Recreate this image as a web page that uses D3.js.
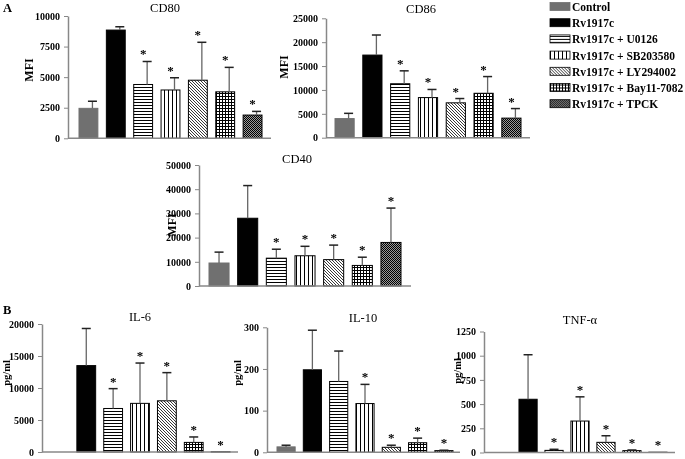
<!DOCTYPE html>
<html><head><meta charset="utf-8">
<script src="https://cdn.jsdelivr.net/npm/d3@7"></script>
<style>body{margin:0;background:#fff}svg{display:block}</style>
</head><body>
<svg id="c" width="685" height="459"></svg>
<script>
const categories = ["Control","Rv1917c","Rv1917c + U0126","Rv1917c + SB203580","Rv1917c + LY294002","Rv1917c + Bay11-7082","Rv1917c + TPCK"];
const fills = ["#707070","#000000","url(#pH)","url(#pV)","url(#pD)","url(#pG)","url(#pC)"];

const cd80Values = [2450, 8850, 4400, 3950, 4750, 3800, 1900];
const cd80SD     = [580, 270, 1880, 1000, 3100, 2000, 300];
const cd80Ticks  = [0, 2500, 5000, 7500, 10000];
const cd80Sig    = [0,0,1,1,1,1,1];

const cd86Values = [4000, 17300, 11300, 8400, 7300, 9300, 4100];
const cd86SD     = [1100, 4200, 2700, 1700, 900, 3500, 2000];
const cd86Ticks  = [0, 5000, 10000, 15000, 20000, 25000];
const cd86Sig    = [0,0,1,1,1,1,1];

const cd40Values = [9500, 28000, 11500, 12500, 10900, 8500, 18000];
const cd40SD     = [4500, 13500, 3700, 3900, 6000, 3400, 14200];
const cd40Ticks  = [0, 10000, 20000, 30000, 40000, 50000];
const cd40Sig    = [0,0,1,1,1,1,1];

const il6Values = [0, 13500, 6800, 7600, 8000, 1500, 40];
const il6SD     = [0, 5800, 3100, 6300, 4400, 850, 0];
const il6Ticks  = [0, 5000, 10000, 15000, 20000];
const il6Sig    = [0,0,1,1,1,1,1];

const il10Values = [13, 198, 170, 117, 12, 23, 4];
const il10SD     = [4, 95, 73, 46, 5, 11, 1];
const il10Ticks  = [0, 100, 200, 300];
const il10Sig    = [0,0,0,1,1,1,1];

const tnfValues = [0, 550, 22, 325, 105, 19, 3];
const tnfSD     = [0, 460, 11, 250, 68, 7, 0];
const tnfTicks  = [0, 250, 500, 750, 1000, 1250];
const tnfSig    = [0,0,1,1,1,1,1];

const FONT = "'Liberation Serif','Times New Roman',serif";
const svg = d3.select("#c");
const defs = svg.append("defs");
const root = svg.append("g").attr("opacity", 0.999);

function pat(id, w, h, draw, bg){
  const p = defs.append("pattern").attr("id", id).attr("patternUnits","userSpaceOnUse").attr("width", w).attr("height", h);
  p.append("rect").attr("width", w).attr("height", h).attr("fill", bg || "#fff");
  draw(p);
}
pat("pH", 4, 3, p => p.append("rect").attr("x",0).attr("y",0).attr("width",4).attr("height",1).attr("fill","#000"));
pat("pV", 4, 4, p => p.append("rect").attr("x",0).attr("y",0).attr("width",1).attr("height",4).attr("fill","#000"));
pat("pD", 3, 3, p => p.append("path").attr("d","M-1,-1L4,4M-1,2L1,4M2,-1L4,1").attr("stroke","#222").attr("stroke-width",0.9));
pat("pG", 3, 3, p => { p.append("rect").attr("x",0).attr("y",0).attr("width",3).attr("height",1).attr("fill","#000"); p.append("rect").attr("x",0).attr("y",0).attr("width",1).attr("height",3).attr("fill","#000"); });
pat("pC", 2, 2, p => { p.append("rect").attr("x",0).attr("y",0).attr("width",1).attr("height",1).attr("fill","#000"); p.append("rect").attr("x",1).attr("y",1).attr("width",1).attr("height",1).attr("fill","#000"); }, "#9a9a9a");

function panel(cfg){
  const g = root.append("g");
  const y = d3.scaleLinear().domain([0, d3.max(cfg.ticks)]).range([cfg.base, cfg.top]);
  const x = d3.scaleBand().domain(categories).range([cfg.b0, cfg.b1]).paddingInner(cfg.pad).paddingOuter(0);
  const ax = g.append("g").attr("transform", `translate(${cfg.ax},0)`)
    .call(d3.axisLeft(y).tickValues(cfg.ticks).tickSize(4).tickPadding(4).tickSizeOuter(0).tickFormat(d3.format("d")));
  ax.select(".domain").attr("stroke","#888").attr("stroke-width",1.5);
  ax.selectAll(".tick line").attr("stroke","#888");
  ax.selectAll(".tick text").attr("font-family",FONT).attr("font-weight","bold").attr("font-size",10).attr("fill","#000");
  g.selectAll("rect.bar").data(cfg.values.map((v,i)=>({v,i,c:categories[i]}))).enter()
    .filter(d => d.v > 0)
    .append("rect").attr("class","bar")
    .attr("x", d => x(d.c)).attr("width", x.bandwidth())
    .attr("y", d => y(d.v)).attr("height", d => cfg.base - y(d.v))
    .attr("fill", d => fills[d.i])
    .attr("stroke", d => d.i === 0 ? "#707070" : "#000").attr("stroke-width", 1);
  g.append("line").attr("x1", cfg.ax).attr("x2", cfg.xEnd).attr("y1", cfg.base).attr("y2", cfg.base)
    .attr("stroke","#888").attr("stroke-width",1.5);
  cfg.values.forEach((v,i) => {
    const sd = cfg.sd[i];
    const cx = x(categories[i]) + x.bandwidth()/2;
    const ex = cx + (cfg.eoff || 0);
    if (sd > 0) {
      g.append("line").attr("x1",ex).attr("x2",ex).attr("y1",y(v)).attr("y2",y(v+sd)).attr("stroke","#666").attr("stroke-width",1.3);
      g.append("line").attr("x1",ex-4.5).attr("x2",ex+4.5).attr("y1",y(v+sd)).attr("y2",y(v+sd)).attr("stroke","#222").attr("stroke-width",1.5);
    }
    if (cfg.sig[i]) {
      g.append("text").attr("x",cx).attr("y",y(v+sd)-3).attr("text-anchor","middle")
        .attr("font-family",FONT).attr("font-weight","bold").attr("font-size",13).attr("fill","#000").text("*");
    }
  });
  g.append("text").attr("x",cfg.tx).attr("y",cfg.ty).attr("text-anchor","middle").attr("font-family",FONT)
    .attr("font-size",12.5).text(cfg.title);
  g.append("text").attr("transform",`translate(${cfg.lx},${cfg.ly}) rotate(-90)`).attr("text-anchor","middle")
    .attr("dominant-baseline","central").attr("font-family",FONT).attr("font-weight","bold").attr("font-size",cfg.lfs)
    .text(cfg.ylabel);
}

panel({title:"CD80", values:cd80Values, sd:cd80SD, ticks:cd80Ticks, sig:cd80Sig, ax:68, base:138.3, top:16, b0:79, b1:262, pad:0.31, xEnd:271, eoff:4, tx:165, ty:11.5, ylabel:"MFI", lx:29, ly:70, lfs:12});
panel({title:"CD86", values:cd86Values, sd:cd86SD, ticks:cd86Ticks, sig:cd86Sig, ax:326, base:137.7, top:18.3, b0:335, b1:521, pad:0.31, xEnd:530, eoff:4, tx:421, ty:12.5, ylabel:"MFI", lx:284, ly:67, lfs:12});
panel({title:"CD40", values:cd40Values, sd:cd40SD, ticks:cd40Ticks, sig:cd40Sig, ax:199, base:286, top:165, b0:209, b1:401, pad:0.3, xEnd:411, eoff:0, tx:297, ty:163, ylabel:"MFI", lx:172, ly:225, lfs:12});
panel({title:"IL-6", values:il6Values, sd:il6SD, ticks:il6Ticks, sig:il6Sig, ax:42, base:452, top:324, b0:50, b1:230, pad:0.3, xEnd:238, eoff:0, tx:140, ty:320.5, ylabel:"pg/ml", lx:6.5, ly:373, lfs:10.5});
panel({title:"IL-10", values:il10Values, sd:il10SD, ticks:il10Ticks, sig:il10Sig, ax:267, base:452.3, top:327.3, b0:277, b1:453, pad:0.31, xEnd:460, eoff:0, tx:363, ty:322, ylabel:"pg/ml", lx:237, ly:373, lfs:10.5});
panel({title:"TNF-α", values:tnfValues, sd:tnfSD, ticks:tnfTicks, sig:tnfSig, ax:484, base:452.5, top:331.5, b0:493, b1:667, pad:0.3, xEnd:675, eoff:0, tx:580, ty:323.5, ylabel:"pg/ml", lx:457, ly:371, lfs:10.5});

root.append("text").attr("x",3).attr("y",11.5).attr("font-family",FONT).attr("font-weight","bold").attr("font-size",12.5).text("A");
root.append("text").attr("x",3).attr("y",314).attr("font-family",FONT).attr("font-weight","bold").attr("font-size",12.5).text("B");

const leg = root.append("g").attr("transform","translate(550,6.5)");
const li = leg.selectAll("g").data(categories).enter().append("g").attr("transform",(d,i)=>`translate(0,${i*16.2})`);
li.append("rect").attr("x",0).attr("y",-4).attr("width",20).attr("height",8)
  .attr("fill",(d,i)=>fills[i]).attr("stroke",(d,i)=> i===0 ? "#707070" : "#000").attr("stroke-width",0.8);
li.append("text").attr("x",22).attr("y",4.5).attr("font-family",FONT).attr("font-weight","bold").attr("font-size",11.5).text(d=>d);
</script>
</body></html>
